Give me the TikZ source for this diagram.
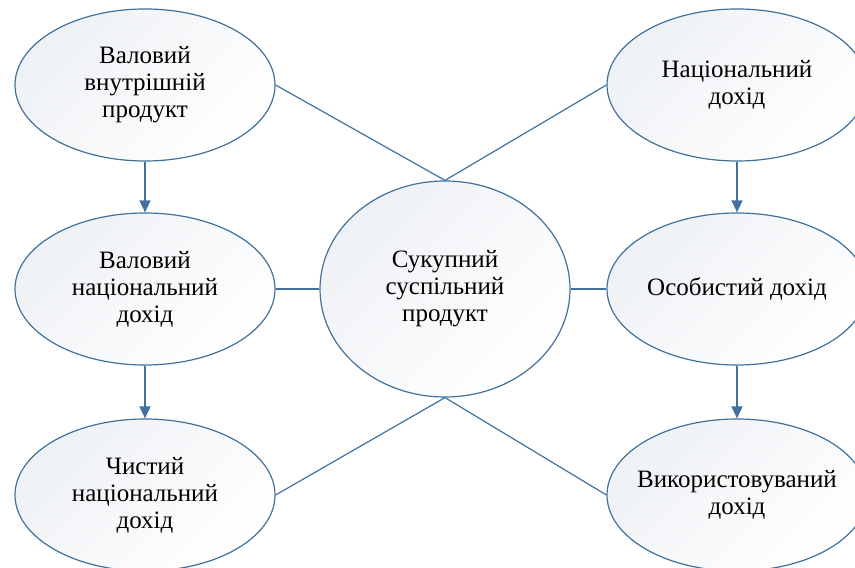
\documentclass[tikz,border=0pt]{standalone}
\usepackage{fontspec}
\setmainfont{Liberation Serif}
\usepackage{tikz}
\usetikzlibrary{shapes,shapes.geometric}
\usetikzlibrary{arrows.meta}

\definecolor{edge_blue}{RGB}{65,113,156}
\definecolor{fill_grey}{RGB}{238,241,245}

\begin{document}
\begin{tikzpicture}[
x=0.5pt, y=0.5pt,
oval_box/.style={ellipse, draw=edge_blue, line width=0.6pt, inner sep=-6pt,
  minimum width=130pt, minimum height=76pt, align=center,
  top color=fill_grey, bottom color=white, shading angle=45,
  font=\rmfamily\fontsize{12.5}{13.5}\selectfont},
big_oval/.style={oval_box, minimum width=125pt, minimum height=108pt},
link_line/.style={draw=edge_blue, line width=0.6pt},
flow_arrow/.style={draw=edge_blue, line width=0.8pt, -{Triangle[length=6pt, width=5.5pt]}}
]
\useasboundingbox (0,0) rectangle (855,567);

% Draw left column
    \node[oval_box] (gdp) at (145,482) {Валовий\\внутрішній\\продукт};
    \node[oval_box] (gni) at (145,278) {Валовий\\національний\\дохід};
    \node[oval_box] (nni) at (145,72) {Чистий\\національний\\дохід};
% Draw right column
    \node[oval_box] (ni) at (737,482) {Національний\\дохід};
    \node[oval_box] (pi) at (737,278) {Особистий дохід};
    \node[oval_box] (di) at (737,72) {Використовуваний\\дохід};
% Draw centre
    \node[big_oval] (total) at (445,278) {Сукупний\\суспільний\\продукт};

% Draw links to centre
    \draw[link_line] (gdp.east) -- (total.north);
    \draw[link_line] (ni.west) -- (total.north);
    \draw[link_line] (gni.east) -- (total.west);
    \draw[link_line] (pi.west) -- (total.east);
    \draw[link_line] (nni.east) -- (total.south);
    \draw[link_line] (di.west) -- (total.south);
% Draw arrows
    \draw[flow_arrow] (gdp.south) -- (gni.north);
    \draw[flow_arrow] (gni.south) -- (nni.north);
    \draw[flow_arrow] (ni.south) -- (pi.north);
    \draw[flow_arrow] (pi.south) -- (di.north);
\end{tikzpicture}
\end{document}
